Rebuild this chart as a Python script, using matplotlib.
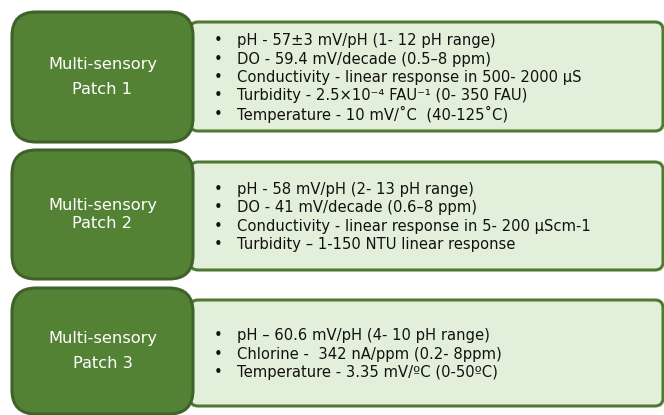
import matplotlib
matplotlib.use("Agg")
import matplotlib.pyplot as plt
from matplotlib.patches import FancyBboxPatch

titles = ["Multi-sensory\nPatch 1", "Multi-sensory\nPatch 2", "Multi-sensory\nPatch 3"]
patch1_items = [
    "pH - 57\u00b13 mV/pH (1- 12 pH range)",
    "DO - 59.4 mV/decade (0.5\u20138 ppm)",
    "Conductivity - linear response in 500- 2000 \u00b5S",
    "Turbidity - 2.5\u00d710\u207b\u2074 FAU\u207b\u00b9 (0- 350 FAU)",
    "Temperature - 10 mV/\u02daC  (40-125\u02daC)",
]
patch2_items = [
    "pH - 58 mV/pH (2- 13 pH range)",
    "DO - 41 mV/decade (0.6\u20138 ppm)",
    "Conductivity - linear response in 5- 200 \u00b5Scm-1",
    "Turbidity \u2013 1-150 NTU linear response",
]
patch3_items = [
    "pH \u2013 60.6 mV/pH (4- 10 pH range)",
    "Chlorine -  342 nA/ppm (0.2- 8ppm)",
    "Temperature - 3.35 mV/\u00baC (0-50\u00baC)",
]
items = [patch1_items, patch2_items, patch3_items]

# layout (pixels, y downward)
green_boxes = [(12, 12, 181, 130), (12, 150, 181, 129), (12, 288, 181, 126)]
light_boxes = [(190, 22, 473, 109), (190, 162, 473, 108), (190, 300, 473, 106)]
title_spacing = [1.9, 1.25, 1.9]
line_pitch = 18.4

fig = plt.figure(figsize=(6.64, 4.15), dpi=100)
ax = fig.add_axes([0, 0, 1, 1])
ax.set_xlim(0, 664)
ax.set_ylim(415, 0)
ax.axis("off")

for i in range(3):
    lx, ly, lw, lh = light_boxes[i]
    ax.add_patch(FancyBboxPatch((lx, ly), lw, lh,
                                boxstyle="round,pad=0,rounding_size=8",
                                facecolor="#e2efda", edgecolor="#4f7a33",
                                linewidth=2.2, zorder=1))
    gx, gy, gw, gh = green_boxes[i]
    ax.add_patch(FancyBboxPatch((gx, gy), gw, gh,
                                boxstyle="round,pad=0,rounding_size=24",
                                facecolor="#548235", edgecolor="#3e6228",
                                linewidth=2.2, zorder=2))
    ax.text(gx + gw / 2, gy + gh / 2, titles[i], color="white",
            ha="center", va="center", fontsize=11.7,
            linespacing=title_spacing[i], zorder=3)
    n = len(items[i])
    cy = ly + lh / 2 + 1
    y0 = cy - (n - 1) * line_pitch / 2
    for j, t in enumerate(items[i]):
        y = y0 + j * line_pitch
        ax.text(218, y, "\u2022", color="#111111", ha="center", va="center",
                fontsize=10.5, zorder=3)
        ax.text(237, y, t, color="#111111", ha="left", va="center",
                fontsize=10.6, zorder=3)

fig.savefig("out.png", dpi=100)
